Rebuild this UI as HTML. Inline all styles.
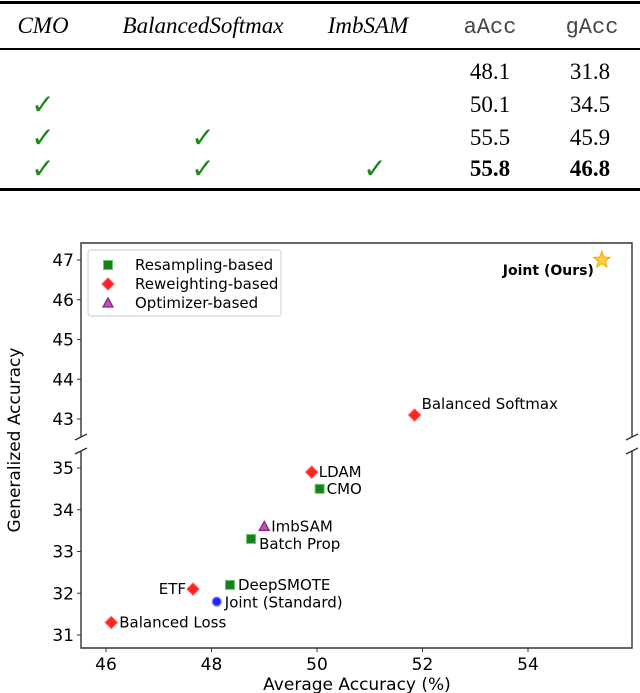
<!DOCTYPE html>
<html><head><meta charset="utf-8"><style>
body{margin:0;background:#fff;width:640px;height:693px;overflow:hidden}
svg{display:block}
.t{font-family:"Liberation Serif",serif;font-size:23px;fill:#000}
.m{font-family:"Liberation Mono","DejaVu Sans Mono","Courier New",monospace;font-size:22px;fill:#444}
.s{font-family:"DejaVu Sans","Liberation Sans",sans-serif;fill:#000}
.k{font-family:"DejaVu Sans",sans-serif;font-size:28px;font-weight:bold;fill:#1a8a1a}
</style></head><body>
<svg id="c" width="640" height="693" xmlns="http://www.w3.org/2000/svg">
<g>
<rect x="0" y="1" width="640" height="3" fill="#000"/>
<rect x="0" y="48" width="640" height="2" fill="#000"/>
<rect x="0" y="188" width="640" height="3" fill="#000"/>
<text class="t" x="43" y="33" text-anchor="middle" font-style="italic">CMO</text>
<text class="t" x="203" y="33" text-anchor="middle" font-style="italic">BalancedSoftmax</text>
<text class="t" x="368" y="33" text-anchor="middle" font-style="italic">ImbSAM</text>
<text class="m" x="490" y="33" text-anchor="middle">aAcc</text>
<text class="m" x="592" y="33" text-anchor="middle">gAcc</text>
<g id="rows"></g>
</g>
<g id="chart"></g>
</svg>
<script>
const tblA=["48.1","50.1","55.5","55.8"];
const tblG=["31.8","34.5","45.9","46.8"];
const tblChecks=[[0,0,0],[1,0,0],[1,1,0],[1,1,1]];
const names=["Joint (Ours)","Balanced Softmax","LDAM","CMO","ImbSAM","Batch Prop","DeepSMOTE","ETF","Joint (Standard)","Balanced Loss"];
const xs=[55.4,51.85,49.9,50.05,49.0,48.75,48.35,47.65,48.1,46.1];
const ys=[47.0,43.1,34.9,34.5,33.6,33.3,32.2,32.1,31.8,31.3];
const kinds=["star","diamond","diamond","square","triangle","square","square","diamond","circle","diamond"];
const xTicks=[46,48,50,52,54];
const yTicksUp=[43,44,45,46,47];
const yTicksLo=[31,32,33,34,35];
const NS="http://www.w3.org/2000/svg";
function mk(p,tag,a,txt){const e=document.createElementNS(NS,tag);for(const k in a)e.setAttribute(k,a[k]);if(txt!=null)e.textContent=txt;p.appendChild(e);return e;}
const rows=document.getElementById('rows');
const rowY=[79,112,145,176],colX=[43,203,375];
tblA.forEach((v,i)=>{
 const bold=i===3?{"font-weight":"bold"}:{};
 let t=mk(rows,'text',Object.assign({class:'t',x:490,y:rowY[i],'text-anchor':'middle'},bold),v);
 
 
 t=mk(rows,'text',Object.assign({class:'t',x:590,y:rowY[i],'text-anchor':'middle'},bold),tblG[i]);
 
 
 tblChecks[i].forEach((c,j)=>{if(c){const k=mk(rows,'text',{class:'k',x:colX[j],y:rowY[i]+2,'text-anchor':'middle'},'✓');
 
 }});
});
const g=document.getElementById('chart');
const L=81,R=632,T=243,UB=437,LT=451,B=648;
const sx=v=>106+(v-46)*(528-106)/8;
function syUp(v){return 260+(47-v)*((419-260)/4);}
function syLo(v){return 468+(35-v)*((635-468)/4);}
const sy=v=>v>=40?syUp(v):syLo(v);
let e;
e=mk(g,'path',{d:`M${L},${UB}V${T}H${R}V${UB}M${L},${LT}V${B}H${R}V${LT}`,fill:'none',stroke:'#333','stroke-width':1.4});


[[L,UB],[R,UB],[L,LT],[R,LT]].forEach(p=>{e=mk(g,'line',{x1:p[0]-6,y1:p[1]+3,x2:p[0]+6,y2:p[1]-3,stroke:'#333','stroke-width':1.4});

});
xTicks.forEach(v=>{mk(g,'line',{x1:sx(v),x2:sx(v),y1:B,y2:B+4,stroke:'#333'});
e=mk(g,'text',{class:'s',x:sx(v),y:B+22,'text-anchor':'middle',style:'font-size:17px'},v);

});
yTicksUp.concat(yTicksLo).forEach(v=>{mk(g,'line',{x1:L-4,x2:L,y1:sy(v),y2:sy(v),stroke:'#333'});
e=mk(g,'text',{class:'s',x:L-7,y:sy(v)+6,'text-anchor':'end',style:'font-size:17px'},v);

});
e=mk(g,'text',{class:'s',x:357,y:690,'text-anchor':'middle',style:'font-size:17px'},'Average Accuracy (%)');


e=mk(g,'text',{class:'s',x:0,y:0,'text-anchor':'middle',style:'font-size:17px',transform:'translate(20,440) rotate(-90)'},'Generalized Accuracy');


function marker(p,kind,x,y){
 if(kind==='square')return mk(p,'rect',{x:x-4.5,y:y-4.5,width:9,height:9,fill:'#1a7f1a',stroke:'#6c6',"stroke-width":1});
 if(kind==='diamond')return mk(p,'path',{d:`M${x},${y-6}L${x+6},${y}L${x},${y+6}L${x-6},${y}Z`,fill:'#f22',stroke:'#f44','stroke-width':1.5,'stroke-opacity':0.6});
 if(kind==='triangle')return mk(p,'path',{d:`M${x},${y-5}L${x+5},${y+4}L${x-5},${y+4}Z`,fill:'#b5b',stroke:'#828','stroke-width':1.3});
 if(kind==='circle')return mk(p,'circle',{cx:x,cy:y,r:4.5,fill:'#22f',stroke:'#88f','stroke-width':1.2});
 let d='';for(let i=0;i<10;i++){const r=i%2?3.6:8.5,a=-Math.PI/2+i*Math.PI/5;d+=(i?'L':'M')+(x+r*Math.cos(a))+','+(y+r*Math.sin(a));}
 return mk(p,'path',{d:d+'Z',fill:'#fc4',stroke:'#f5b400','stroke-width':1.2});
}
const lblOff={"Joint (Ours)":[-8,15,'end'],"Balanced Softmax":[7,-6,'start'],"LDAM":[7,5,'start'],"CMO":[7,5,'start'],"ImbSAM":[7,5,'start'],"Batch Prop":[8,10,'start'],"DeepSMOTE":[8,5,'start'],"ETF":[-7,5,'end'],"Joint (Standard)":[8,6,'start'],"Balanced Loss":[8,5,'start']};
names.forEach((n,i)=>{
 const x=sx(xs[i]),y=sy(ys[i]);
 const m=marker(g,kinds[i],x,y);
 
 
 const o=lblOff[n];
 const t=mk(g,'text',{class:'s',x:x+o[0],y:y+o[1],'text-anchor':o[2],'font-weight':i===0?'bold':'normal',style:i===0?'font-size:14px':'font-size:15px'},n);
 
 
});
const lg=mk(g,'g',{});


mk(lg,'rect',{x:88,y:250,width:193,height:66,rx:3,fill:'#fff',stroke:'#ccc'});
[['square','Resampling-based'],['diamond','Reweighting-based'],['triangle','Optimizer-based']].forEach((it,i)=>{
 const y=265+i*19;
 marker(lg,it[0],108,y);
 const t=mk(lg,'text',{class:'s',x:135,y:y+5,style:'font-size:15px'},it[1]);
 
 
});
</script>
</body></html>
